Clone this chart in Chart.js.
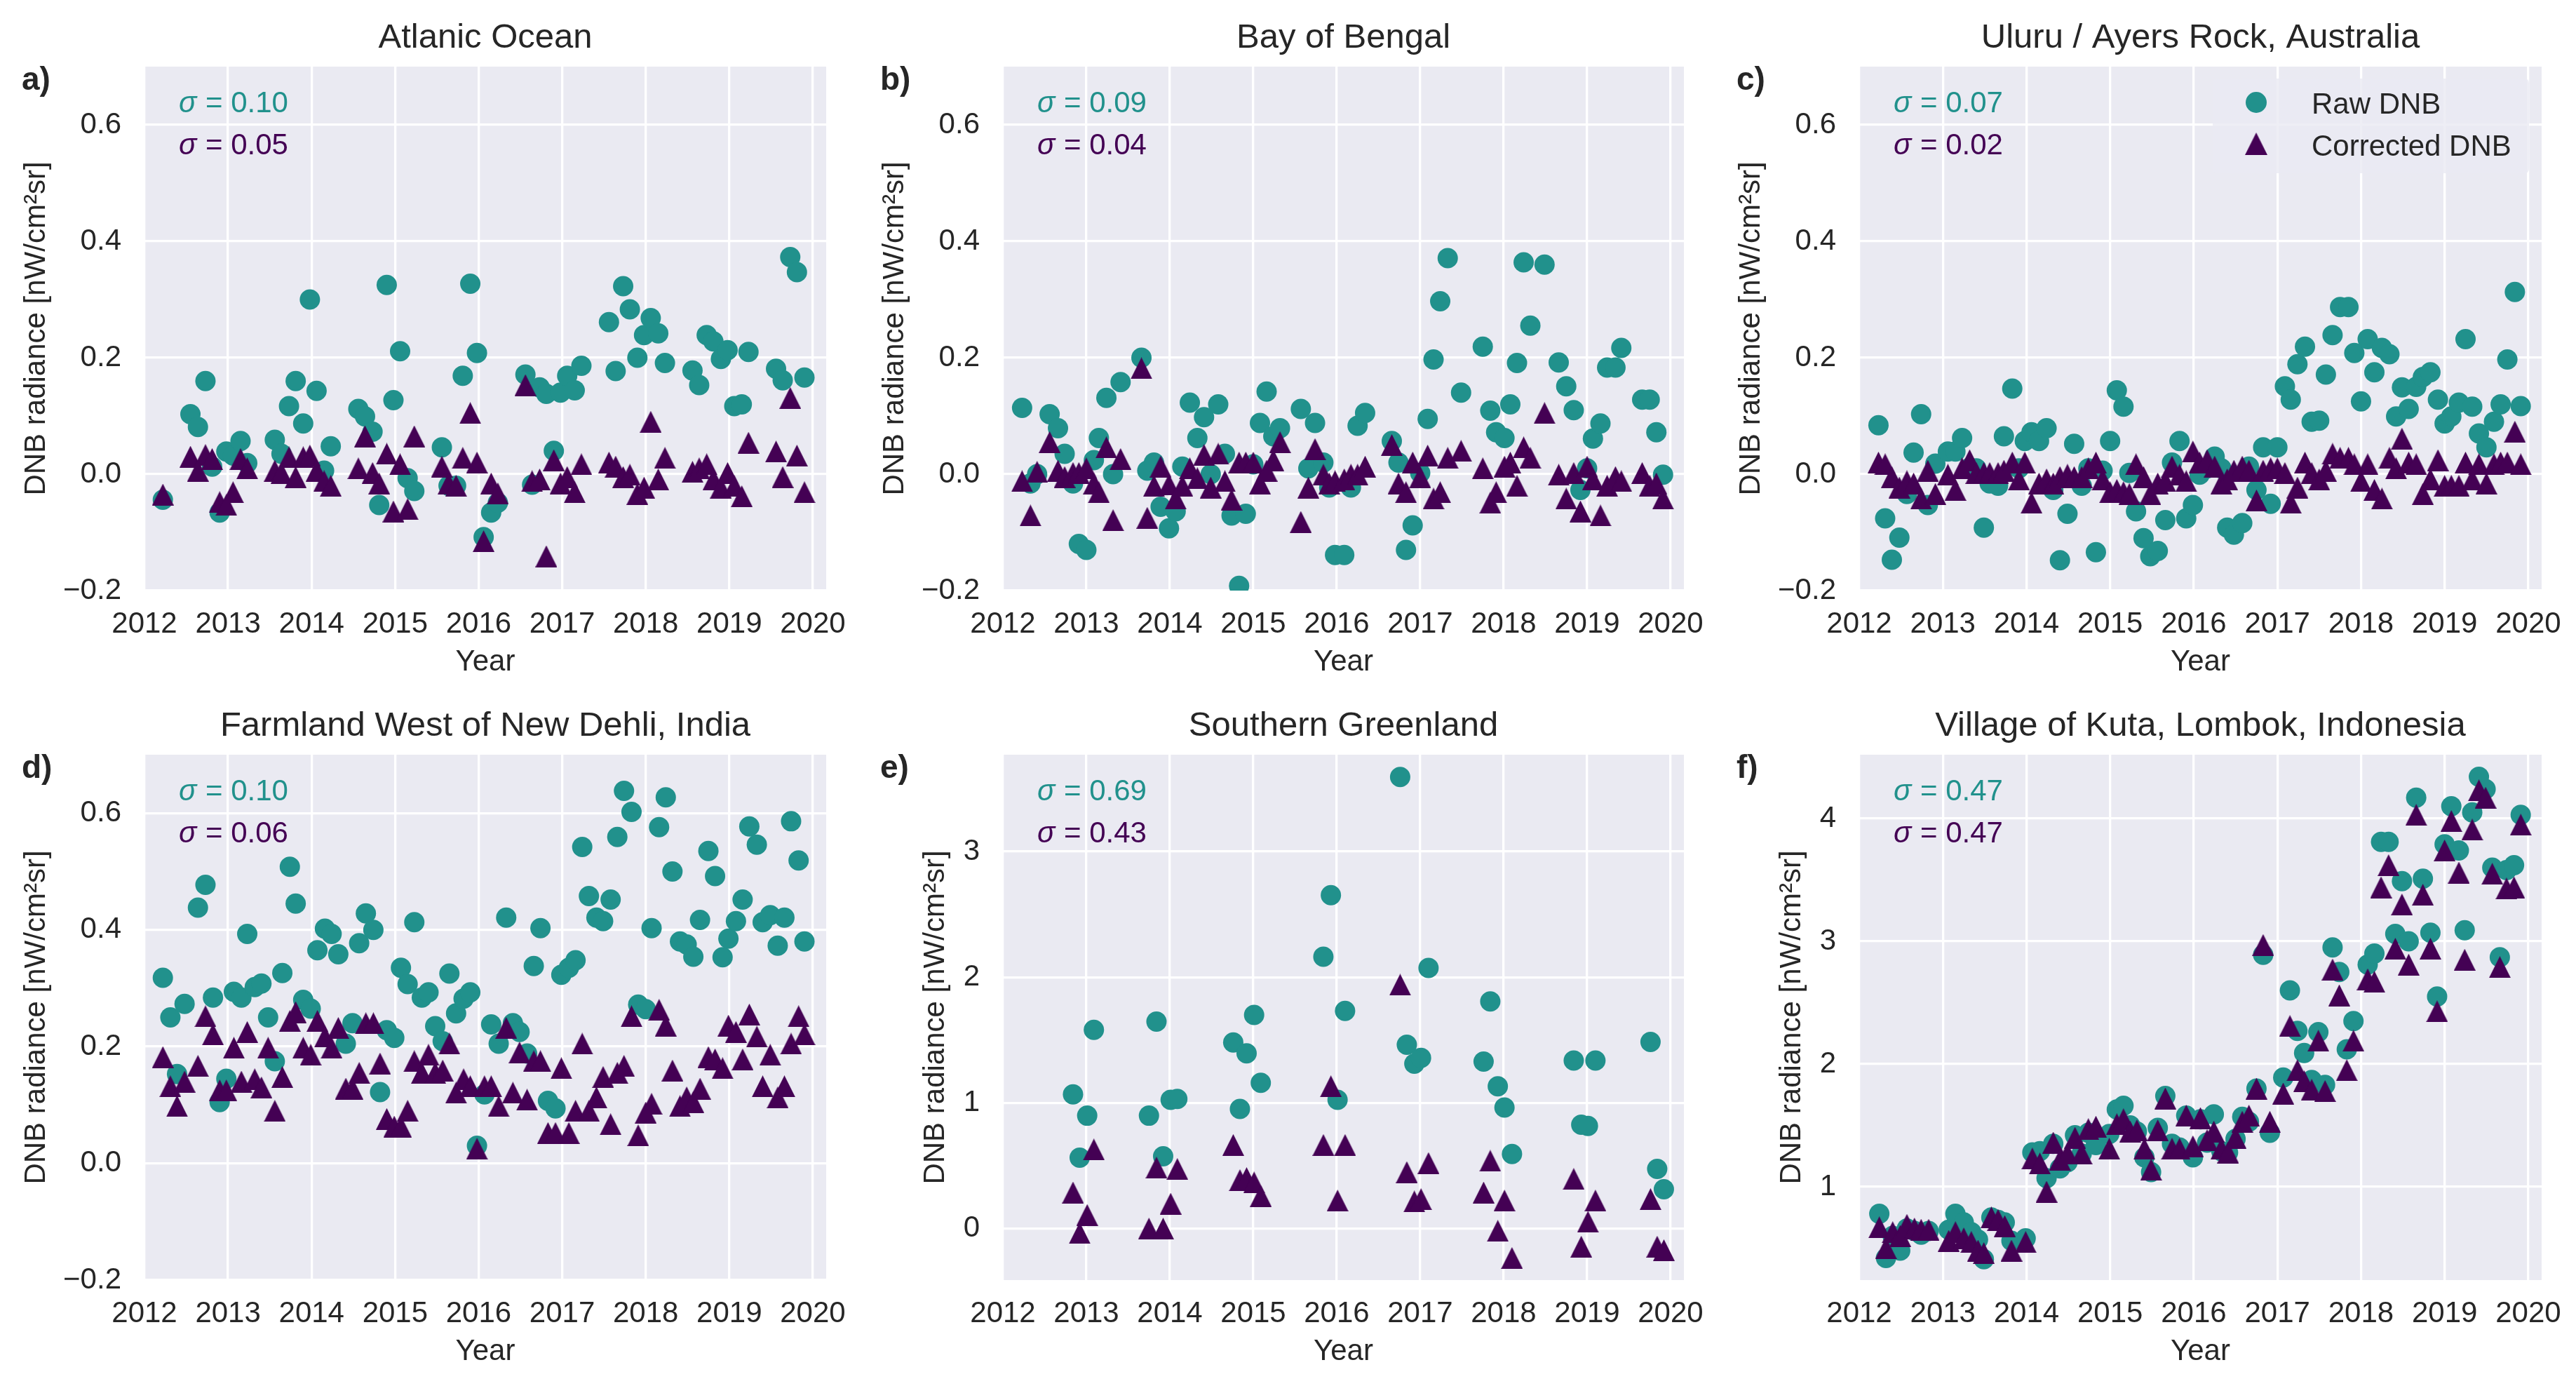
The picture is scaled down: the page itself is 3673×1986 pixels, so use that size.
<!DOCTYPE html>
<html>
<head>
<meta charset="utf-8">
<script src="https://cdn.jsdelivr.net/npm/chart.js@4.4.1/dist/chart.umd.min.js"></script>
<style>
  html, body { margin: 0; padding: 0; background: #fff; overflow: hidden; }
  body { position: relative; width: 3673px; height: 1986px; }
  canvas { position: absolute; }
</style>
</head>
<body>
<script>
const FONT = "'Liberation Sans', Arial, Helvetica, sans-serif";
const TEAL = '#21918c';
const PURPLE = '#440154';
const INK = '#262626';

// ---- data (decimal years, radiance nW/cm²sr) ----
const titles = ['Atlanic Ocean', 'Bay of Bengal', 'Uluru / Ayers Rock, Australia',
  'Farmland West of New Dehli, India', 'Southern Greenland', 'Village of Kuta, Lombok, Indonesia'];
const letters = ['a)', 'b)', 'c)', 'd)', 'e)', 'f)'];
const sigmaRaw = ['0.10', '0.09', '0.07', '0.10', '0.69', '0.47'];
const sigmaCorr = ['0.05', '0.04', '0.02', '0.06', '0.43', '0.47'];

const atlanticDates = [2012.22,
  2012.55,2012.64,2012.73,2012.81,2012.90,2012.98,2013.06,2013.15,2013.23,
  2013.56,2013.64,2013.73,2013.81,2013.90,2013.98,2014.06,2014.15,2014.23,
  2014.56,2014.64,2014.73,2014.81,2014.90,2014.98,2015.06,2015.15,2015.23,
  2015.56,2015.64,2015.73,2015.81,2015.90,2015.98,2016.06,2016.15,2016.23,
  2016.56,2016.64,2016.73,2016.81,2016.90,2016.98,2017.06,2017.15,2017.23,
  2017.56,2017.64,2017.73,2017.81,2017.90,2017.98,2018.06,2018.15,2018.23,
  2018.56,2018.64,2018.73,2018.81,2018.90,2018.98,2019.06,2019.15,2019.23,
  2019.56,2019.64,2019.73,2019.81,2019.90];
const atlanticRaw = [-0.044,
  0.103,0.081,0.160,0.013,-0.066,0.039,0.032,0.057,0.019,
  0.059,0.035,0.117,0.160,0.087,0.300,0.143,0.006,0.048,
  0.112,0.099,0.073,-0.053,0.325,0.127,0.211,-0.007,-0.029,
  0.046,-0.02,-0.02,0.169,0.327,0.208,-0.108,-0.066,-0.049,
  0.171,-0.018,0.149,0.138,0.040,0.140,0.169,0.144,0.186,
  0.261,0.177,0.323,0.283,0.200,0.239,0.268,0.242,0.191,
  0.178,0.153,0.239,0.228,0.198,0.213,0.117,0.120,0.210,
  0.181,0.161,0.373,0.347,0.166];
const atlanticCorr = [-0.035,
  0.03,0.006,0.033,0.026,-0.048,-0.053,-0.031,0.026,0.01,
  0.006,0.002,0.029,-0.005,0.029,0.032,0.006,-0.012,-0.02,
  0.01,0.065,0.002,-0.016,0.035,-0.064,0.017,-0.06,0.065,
  0.013,-0.016,-0.02,0.028,0.105,0.02,-0.115,-0.016,-0.033,
  0.153,-0.012,-0.009,-0.141,0.024,-0.016,-0.005,-0.031,0.017,
  0.02,0.013,-0.005,-0.001,-0.034,-0.023,0.09,-0.009,0.028,
  0.004,0.01,0.017,-0.009,-0.023,0.002,-0.02,-0.038,0.054,
  0.039,-0.005,0.131,0.032,-0.031];

const bengalDates = [2012.23,2012.33,2012.41,2012.56,2012.66,2012.74,2012.84,2012.91,2013.00,2013.09,
  2013.15,2013.24,2013.32,2013.41,2013.66,2013.73,2013.81,2013.89,2013.99,2014.07,
  2014.15,2014.24,2014.33,2014.41,2014.49,2014.58,2014.66,2014.74,2014.83,2014.91,
  2015.00,2015.08,2015.16,2015.24,2015.32,2015.57,2015.66,2015.74,2015.84,2015.91,
  2015.98,2016.09,2016.17,2016.25,2016.34,2016.66,2016.74,2016.83,2016.91,2017.00,
  2017.09,2017.16,2017.24,2017.33,2017.49,2017.75,2017.84,2017.91,2018.01,2018.08,
  2018.16,2018.24,2018.32,2018.49,2018.66,2018.75,2018.84,2018.92,2019.00,2019.07,
  2019.16,2019.24,2019.34,2019.41,2019.66,2019.75,2019.83,2019.91];
const bengalRaw = [0.114,-0.016,0.0,0.103,0.079,0.035,-0.016,-0.12,-0.13,0.024,
  0.062,0.131,0.0,0.158,0.2,0.006,0.02,-0.056,-0.093,-0.064,
  0.013,0.123,0.062,0.098,0.0,0.12,0.035,-0.071,-0.192,-0.068,
  0.017,0.088,0.142,0.065,0.079,0.112,0.01,0.088,0.02,-0.023,
  -0.139,-0.139,-0.023,0.083,0.105,0.057,0.02,-0.13,-0.088,0.002,
  0.095,0.197,0.297,0.371,0.14,0.219,0.109,0.072,0.062,0.12,
  0.191,0.364,0.255,0.36,0.192,0.151,0.11,-0.027,0.01,0.061,
  0.087,0.183,0.183,0.217,0.128,0.128,0.072,-0.001];
const bengalCorr = [-0.012,-0.071,0.004,0.055,0.006,-0.005,0.002,0.002,0.01,-0.016,
  -0.031,0.046,-0.079,0.026,0.182,-0.075,-0.02,0.013,-0.018,-0.042,
  -0.02,0.01,-0.007,0.033,-0.023,0.035,-0.012,-0.044,0.02,0.02,
  0.02,-0.016,0.006,0.024,0.055,-0.082,-0.023,0.043,-0.001,-0.016,
  -0.012,-0.009,-0.001,-0.001,0.013,0.05,-0.016,-0.031,0.02,-0.005,
  0.032,-0.042,-0.031,0.028,0.04,0.01,-0.049,-0.031,0.013,0.02,
  -0.02,0.046,0.028,0.105,-0.001,-0.042,0.002,-0.064,0.013,-0.009,
  -0.071,-0.02,-0.005,-0.012,0.002,-0.02,-0.016,-0.042];

const uluruDates = [2012.23,2012.31,2012.39,2012.48,2012.57,2012.65,2012.74,2012.82,2012.91,2013.06,
  2013.15,2013.23,2013.32,2013.40,2013.49,2013.56,2013.66,2013.73,2013.83,2013.91,
  2013.98,2014.06,2014.15,2014.24,2014.32,2014.40,2014.49,2014.57,2014.66,2014.74,
  2014.83,2014.91,2015.00,2015.08,2015.16,2015.23,2015.31,2015.40,2015.48,2015.57,
  2015.66,2015.74,2015.83,2015.91,2015.99,2016.07,2016.16,2016.25,2016.33,2016.40,
  2016.48,2016.58,2016.66,2016.75,2016.83,2016.92,2017.00,2017.09,2017.16,2017.24,
  2017.33,2017.41,2017.50,2017.58,2017.66,2017.75,2017.85,2017.92,2018.00,2018.08,
  2018.16,2018.25,2018.34,2018.42,2018.49,2018.57,2018.66,2018.74,2018.83,2018.92,
  2019.00,2019.08,2019.17,2019.25,2019.33,2019.41,2019.50,2019.59,2019.67,2019.75,
  2019.84,2019.91];
const uluruRaw = [0.084,-0.076,-0.147,-0.109,-0.034,0.037,0.103,-0.053,0.018,0.039,
  0.039,0.062,0.011,0.01,-0.092,-0.016,-0.02,0.065,0.147,0.01,
  0.057,0.072,0.057,0.079,-0.027,-0.148,-0.068,0.052,-0.02,0.01,
  -0.134,0.006,0.057,0.144,0.116,0.002,-0.064,-0.11,-0.141,-0.132,
  -0.079,0.02,0.057,-0.076,-0.053,-0.001,0.01,0.03,0.01,-0.092,
  -0.104,-0.084,0.013,-0.027,0.046,-0.051,0.046,0.151,0.128,0.189,
  0.219,0.09,0.092,0.171,0.239,0.287,0.287,0.208,0.125,0.232,
  0.175,0.217,0.206,0.099,0.149,0.112,0.15,0.167,0.175,0.128,
  0.087,0.099,0.123,0.232,0.116,0.07,0.046,0.09,0.12,0.197,
  0.313,0.117];
const uluruCorr = [0.02,0.017,-0.005,-0.023,-0.012,-0.016,-0.042,0.006,-0.034,-0.001,
  -0.027,0.01,0.024,0.002,0.002,0.002,0.002,0.006,0.02,-0.009,
  0.02,-0.049,-0.016,-0.009,-0.016,-0.005,-0.001,-0.005,-0.005,0.01,
  0.02,-0.009,-0.031,-0.027,-0.031,-0.034,0.017,-0.005,-0.034,-0.016,
  -0.012,0.013,-0.001,-0.012,0.039,0.02,0.024,0.013,-0.016,-0.009,
  0.006,0.013,0.006,-0.045,0.006,0.01,0.01,0.002,-0.049,-0.023,
  0.02,0.002,-0.009,0.006,0.035,0.028,0.028,0.017,-0.012,0.017,
  -0.027,-0.042,0.028,0.01,0.061,0.02,0.017,-0.034,-0.009,0.024,
  -0.02,-0.02,-0.02,0.02,-0.009,0.017,-0.016,0.017,0.02,0.02,
  0.073,0.017];

const dehliDates = [2012.22,2012.31,2012.39,2012.48,2012.64,2012.73,2012.82,2012.90,2012.98,2013.07,
  2013.16,2013.23,2013.32,2013.40,2013.48,2013.56,2013.65,2013.74,2013.81,2013.90,
  2013.99,2014.07,2014.16,2014.24,2014.32,2014.41,2014.49,2014.57,2014.65,2014.74,
  2014.82,2014.90,2014.99,2015.07,2015.15,2015.23,2015.32,2015.40,2015.48,2015.57,
  2015.65,2015.73,2015.82,2015.90,2015.98,2016.07,2016.15,2016.24,2016.33,2016.41,
  2016.49,2016.58,2016.66,2016.74,2016.83,2016.92,2016.99,2017.08,2017.16,2017.24,
  2017.32,2017.41,2017.49,2017.58,2017.66,2017.74,2017.83,2017.91,2018.00,2018.07,
  2018.16,2018.24,2018.32,2018.41,2018.49,2018.57,2018.65,2018.75,2018.83,2018.92,
  2018.99,2019.08,2019.16,2019.24,2019.33,2019.40,2019.49,2019.58,2019.66,2019.74,
  2019.83,2019.90];
const dehliRaw = [0.318,0.25,0.153,0.273,0.438,0.477,0.284,0.105,0.145,0.294,
  0.284,0.393,0.302,0.308,0.25,0.175,0.326,0.508,0.445,0.28,
  0.265,0.365,0.402,0.393,0.358,0.205,0.24,0.377,0.428,0.4,
  0.122,0.228,0.215,0.335,0.307,0.413,0.284,0.293,0.235,0.209,
  0.325,0.257,0.282,0.293,0.03,0.118,0.238,0.205,0.421,0.24,
  0.225,0.188,0.338,0.403,0.107,0.094,0.323,0.335,0.348,0.542,
  0.458,0.421,0.415,0.452,0.559,0.638,0.602,0.272,0.264,0.403,
  0.576,0.627,0.5,0.38,0.375,0.354,0.417,0.535,0.492,0.353,
  0.385,0.415,0.452,0.577,0.546,0.413,0.425,0.373,0.421,0.586,
  0.519,0.38];
const dehliCorr = [0.182,0.132,0.098,0.14,0.167,0.252,0.221,0.125,0.125,0.198,
  0.14,0.225,0.144,0.13,0.198,0.09,0.148,0.244,0.259,0.198,
  0.186,0.244,0.217,0.198,0.232,0.128,0.128,0.155,0.24,0.24,
  0.171,0.076,0.063,0.063,0.09,0.175,0.155,0.186,0.155,0.159,
  0.205,0.121,0.144,0.132,0.025,0.132,0.132,0.098,0.232,0.121,
  0.19,0.109,0.175,0.175,0.052,0.052,0.163,0.052,0.09,0.205,
  0.09,0.113,0.148,0.067,0.155,0.167,0.252,0.048,0.087,0.102,
  0.263,0.236,0.159,0.098,0.113,0.105,0.128,0.182,0.178,0.163,
  0.236,0.225,0.178,0.255,0.217,0.132,0.186,0.113,0.132,0.205,
  0.252,0.221];

const greenlandDates = [2012.84,2012.92,2013.01,2013.09,
  2013.75,2013.84,2013.92,2014.01,2014.09,
  2014.76,2014.84,2014.92,2015.01,2015.09,
  2015.84,2015.93,2016.01,2016.10,
  2016.76,2016.84,2016.93,2017.01,2017.10,
  2017.76,2017.84,2017.93,2018.01,2018.10,
  2018.84,2018.93,2019.01,2019.10,
  2019.76,2019.84,2019.92];
const greenlandRaw = [1.067,0.564,0.898,1.581,
  0.898,1.646,0.575,1.024,1.031,
  1.48,0.952,1.394,1.7,1.16,
  2.163,2.652,1.024,1.732,
  3.593,1.462,1.311,1.358,2.073,
  1.329,1.807,1.132,0.963,0.593,
  1.337,0.826,0.816,1.337,
  1.484,0.474,0.313];
const greenlandCorr = [0.287,-0.036,0.108,0.629,
  0.0,0.485,0.0,0.198,0.474,
  0.665,0.385,0.402,0.367,0.259,
  0.665,1.132,0.223,0.665,
  1.94,0.449,0.216,0.234,0.521,
  0.287,0.539,-0.018,0.223,-0.234,
  0.395,-0.144,0.054,0.223,
  0.234,-0.144,-0.172];

const kutaDates = [2012.24,2012.32,2012.40,2012.49,2012.57,2012.66,2012.74,2012.83,
  2013.07,2013.15,2013.25,2013.34,2013.42,2013.49,2013.58,2013.66,2013.74,2013.82,2013.99,
  2014.07,2014.16,2014.24,2014.32,2014.40,2014.49,2014.58,2014.66,2014.74,2014.83,2014.99,
  2015.08,2015.16,2015.24,2015.32,2015.41,2015.49,2015.57,2015.66,2015.74,2015.83,2015.91,2015.99,
  2016.08,2016.16,2016.24,2016.33,2016.41,2016.50,2016.58,2016.66,2016.75,2016.83,2016.91,
  2017.07,2017.15,2017.24,2017.32,2017.41,2017.49,2017.57,2017.66,2017.74,2017.83,2017.91,
  2018.08,2018.16,2018.24,2018.33,2018.41,2018.49,2018.57,2018.66,2018.74,2018.83,2018.91,
  2019.00,2019.08,2019.17,2019.24,2019.33,2019.41,2019.49,2019.57,2019.66,2019.74,2019.83,2019.91];
const kutaRaw = [0.78,0.42,0.60,0.48,0.66,0.64,0.61,0.64,
  0.65,0.78,0.71,0.63,0.57,0.41,0.75,0.73,0.71,0.56,0.58,
  1.28,1.29,1.07,1.35,1.15,1.20,1.42,1.27,1.44,1.34,1.43,
  1.63,1.66,1.50,1.45,1.24,1.12,1.48,1.74,1.35,1.32,1.58,1.24,
  1.55,1.36,1.59,1.29,1.28,1.39,1.57,1.53,1.80,2.89,1.44,
  1.89,2.60,2.27,2.09,1.87,2.26,1.83,2.95,2.75,2.12,2.35,
  2.81,2.90,3.81,3.81,3.06,3.49,3.00,4.17,3.51,3.07,2.55,
  3.79,4.10,3.74,3.09,4.05,4.34,4.24,3.60,2.87,3.58,3.62,4.03];
const kutaCorr = [0.67,0.50,0.63,0.60,0.69,0.66,0.65,0.65,
  0.56,0.63,0.58,0.55,0.48,0.46,0.75,0.73,0.68,0.48,0.55,
  1.23,1.19,0.96,1.36,1.22,1.27,1.40,1.27,1.47,1.49,1.31,
  1.51,1.55,1.45,1.46,1.31,1.14,1.46,1.72,1.31,1.31,1.58,1.33,
  1.56,1.38,1.45,1.31,1.28,1.40,1.53,1.58,1.80,2.97,1.53,
  1.76,2.31,1.95,1.86,1.79,2.19,1.78,2.77,2.56,1.95,2.19,
  2.69,2.67,3.44,3.62,2.94,3.30,2.81,4.03,3.38,2.94,2.43,
  3.74,3.98,3.56,2.85,3.91,4.23,4.17,3.55,2.79,3.43,3.44,3.95];

const yearTicks = [2012, 2020.16];

// ---- layout: plot rectangles [left, top, right, bottom] in page px ----
const panels = [
  { dates: atlanticDates, raw: atlanticRaw, corr: atlanticCorr, rect: [206, 95, 1178, 842], y: [-0.2, 0.7, 0.2], titlePad: 21 },
  { dates: bengalDates, raw: bengalRaw, corr: bengalCorr, rect: [1430, 95, 2401, 842], y: [-0.2, 0.7, 0.2], titlePad: 21 },
  { dates: uluruDates, raw: uluruRaw, corr: uluruCorr, rect: [2651, 95, 3624, 842], y: [-0.2, 0.7, 0.2], titlePad: 21, legend: true },
  { dates: dehliDates, raw: dehliRaw, corr: dehliCorr, rect: [206, 1076, 1178, 1825], y: [-0.2, 0.7, 0.2], titlePad: 21 },
  { dates: greenlandDates, raw: greenlandRaw, corr: greenlandCorr, rect: [1430, 1076, 2401, 1825], y: [-0.41, 3.77, 1], titlePad: 79 },
  { dates: kutaDates, raw: kutaRaw, corr: kutaCorr, rect: [2651, 1076, 3624, 1825], y: [0.24, 4.52, 1], titlePad: 79 }
];

const YW = 200, PT = 95, XH = 135, PR = 60;

function makeTriangle(size, color) {
  const c = document.createElement('canvas');
  c.width = size; c.height = size;
  const g = c.getContext('2d');
  g.fillStyle = color;
  g.beginPath();
  g.moveTo(size / 2, 0);
  g.lineTo(size, size);
  g.lineTo(0, size);
  g.closePath();
  g.fill();
  return c;
}
const triangle = makeTriangle(31, PURPLE);

function drawSigma(ctx, x, y, value, color) {
  ctx.fillStyle = color;
  ctx.textAlign = 'left';
  ctx.font = `italic 42px ${FONT}`;
  ctx.fillText('\u03c3', x, y);
  const w = ctx.measureText('\u03c3').width;
  ctx.font = `42px ${FONT}`;
  ctx.fillText(' = ' + value, x + w + 1, y);
}

const decor = {
  id: 'decor',
  beforeDraw(chart) {
    const { ctx, chartArea: a } = chart;
    ctx.save();
    ctx.fillStyle = '#eaeaf2';
    ctx.fillRect(a.left, a.top, a.right - a.left, a.bottom - a.top);
    ctx.restore();
  },
  afterDraw(chart, args, o) {
    const { ctx, chartArea: a } = chart;
    ctx.save();
    ctx.textBaseline = 'alphabetic';
    ctx.fillStyle = INK;
    ctx.font = `49px ${FONT}`;
    ctx.textAlign = 'center';
    ctx.fillText(o.title, (a.left + a.right) / 2, a.top - 27);
    ctx.font = `bold 46px ${FONT}`;
    ctx.textAlign = 'left';
    ctx.fillText(o.letter, a.left - 175, a.top + 33);
    drawSigma(ctx, a.left + 49, a.top + 65, o.sr, TEAL);
    drawSigma(ctx, a.left + 49, a.top + 125, o.sc, PURPLE);

    if (o.legend) {
      const bx = a.left + 504, by = a.top + 17, bw = a.right - 18 - bx, bh = 135;
      ctx.fillStyle = 'rgba(234,234,242,0.8)';
      ctx.beginPath();
      if (ctx.roundRect) ctx.roundRect(bx, by, bw, bh, 6); else ctx.rect(bx, by, bw, bh);
      ctx.fill();
      ctx.fillStyle = TEAL;
      ctx.beginPath();
      ctx.arc(a.left + 566, a.top + 51, 15, 0, Math.PI * 2);
      ctx.fill();
      ctx.drawImage(triangle, a.left + 566 - 16, a.top + 110 - 16, 32, 32);
      ctx.fillStyle = INK;
      ctx.font = `42px ${FONT}`;
      ctx.fillText('Raw DNB', a.left + 645, a.top + 67);
      ctx.fillText('Corrected DNB', a.left + 645, a.top + 127);
    }
    ctx.restore();
  }
};

const fmtDec = v => (v < 0 ? '\u2212' : '') + Math.abs(v).toFixed(1);
const fmtInt = v => String(Math.round(v));

panels.forEach((p, i) => {
  const [l, t, r, b] = p.rect;
  const cv = document.createElement('canvas');
  cv.width = (r - l) + YW + PR;
  cv.height = (b - t) + PT + XH;
  cv.style.left = (l - YW) + 'px';
  cv.style.top = (t - PT) + 'px';
  cv.style.width = cv.width + 'px';
  cv.style.height = cv.height + 'px';
  document.body.appendChild(cv);

  const tickFont = { family: FONT, size: 42 };
  const grid = { color: '#ffffff', lineWidth: 3.3, drawTicks: true, tickColor: 'rgba(0,0,0,0)' };

  new Chart(cv, {
    type: 'scatter',
    data: {
      datasets: [{
        label: 'Corrected DNB',
        data: p.dates.map((d, k) => ({ x: d, y: p.corr[k] })),
        pointStyle: triangle,
        pointRadius: 15,
        order: 1
      }, {
        label: 'Raw DNB',
        data: p.dates.map((d, k) => ({ x: d, y: p.raw[k] })),
        pointStyle: 'circle',
        pointRadius: 14.5,
        pointBackgroundColor: TEAL,
        pointBorderWidth: 0,
        order: 2
      }]
    },
    options: {
      responsive: false,
      animation: false,
      devicePixelRatio: 1,
      events: [],
      layout: { padding: { left: 0, top: PT, right: PR, bottom: 0 } },
      scales: {
        x: {
          type: 'linear',
          min: yearTicks[0],
          max: yearTicks[1],
          afterFit: s => { s.height = XH; },
          grid: Object.assign({ tickLength: 20 }, grid),
          border: { display: false },
          ticks: { stepSize: 1, padding: 3, color: INK, font: tickFont, maxRotation: 0, autoSkip: false, includeBounds: false, callback: v => String(v) },
          title: { display: true, text: 'Year', color: INK, font: tickFont, padding: { top: 0, bottom: 7 } }
        },
        y: {
          type: 'linear',
          min: p.y[0],
          max: p.y[1],
          afterFit: s => { s.width = YW; },
          grid: Object.assign({ tickLength: 30 }, grid),
          border: { display: false },
          ticks: { stepSize: p.y[2], padding: 3, color: INK, font: tickFont, includeBounds: false, callback: p.y[2] < 1 ? fmtDec : fmtInt },
          title: { display: true, text: 'DNB radiance [nW/cm²sr]', color: INK, font: tickFont, padding: { top: p.titlePad, bottom: 0 } }
        }
      },
      plugins: {
        legend: { display: false },
        tooltip: { enabled: false },
        decor: { title: titles[i], letter: letters[i], sr: sigmaRaw[i], sc: sigmaCorr[i], legend: !!p.legend }
      }
    },
    plugins: [decor]
  });
});
</script>
</body>
</html>
